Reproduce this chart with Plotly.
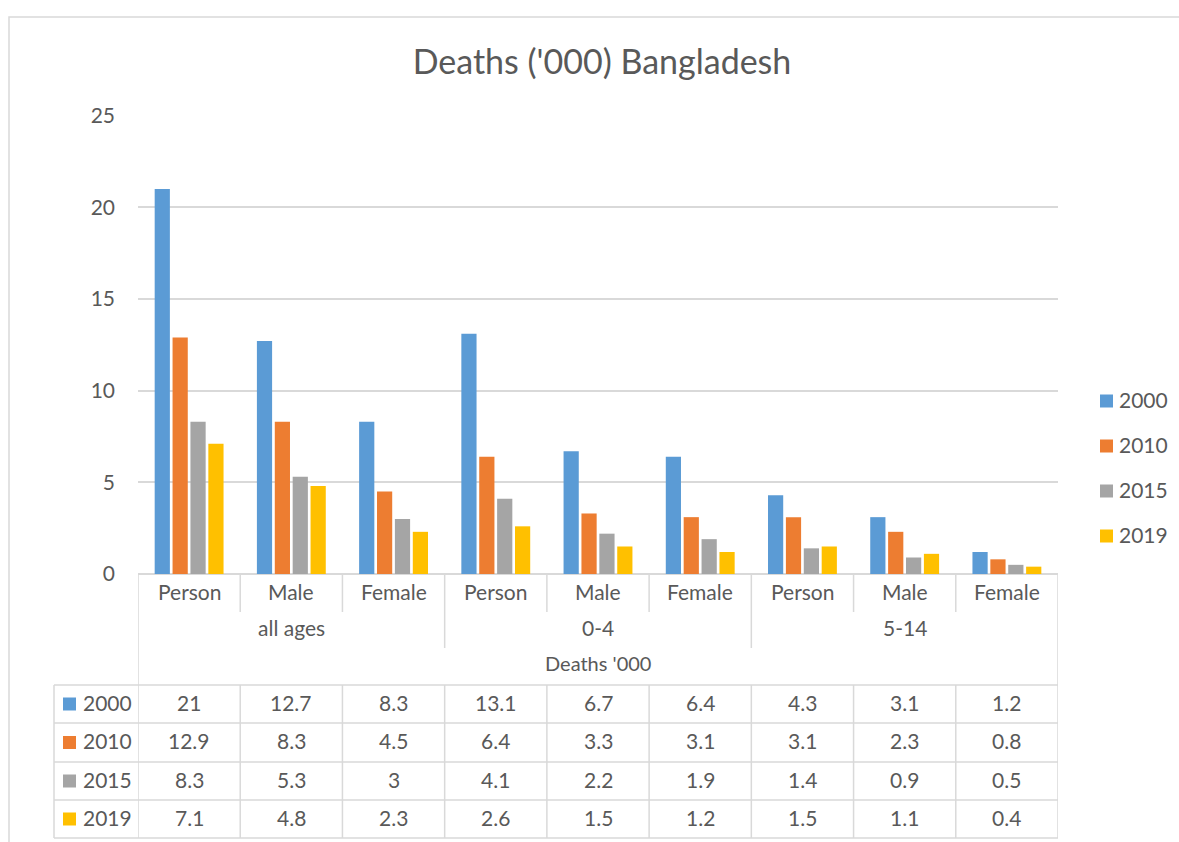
import plotly.graph_objects as go

# ---- data ----
sexes = ["Person", "Male", "Female", "Person", "Male", "Female", "Person", "Male", "Female"]
age_groups = ["all ages", "0-4", "5-14"]
axis_title = "Deaths '000"
years = ["2000", "2010", "2015", "2019"]
v2000 = [21, 12.7, 8.3, 13.1, 6.7, 6.4, 4.3, 3.1, 1.2]
v2010 = [12.9, 8.3, 4.5, 6.4, 3.3, 3.1, 3.1, 2.3, 0.8]
v2015 = [8.3, 5.3, 3, 4.1, 2.2, 1.9, 1.4, 0.9, 0.5]
v2019 = [7.1, 4.8, 2.3, 2.6, 1.5, 1.2, 1.5, 1.1, 0.4]
series = [v2000, v2010, v2015, v2019]
colors = ["#5B9BD5", "#ED7D31", "#A5A5A5", "#FFC000"]
title = "Deaths ('000) Bangladesh"

# ---- layout geometry (pixels) ----
W, H = 1179, 842
L, R, T, B = 138, 1058, 115, 574
PH = B - T
PW = R - L
FONT = "Lato, 'Open Sans', sans-serif"
TXT = "#595959"
GRID = "#D9D9D9"
FS = 21
DY = -2  # text baseline nudge


def py(p):
    return (B - p) / PH


def px(p):
    return (p - L) / PW


n = len(sexes)
x = list(range(n))

fig = go.Figure()
for yr, vals, c in zip(years, series, colors):
    fig.add_trace(go.Bar(x=x, y=vals, name=yr, marker=dict(color=c, line=dict(width=0)),
                         showlegend=False))

shapes = []
annotations = []
line = dict(color=GRID, width=1.5)

bounds = [i - 0.5 for i in range(n + 1)]
row_lines = [685, 723, 762, 800, 838]

# vertical separators under the axis
for i, bx in enumerate(bounds):
    if i == 0 or i == n:
        y0 = 838
    elif i % 3 == 0:
        y0 = 648
    else:
        y0 = 612
    shapes.append(dict(type="line", xref="x", yref="paper", x0=bx, x1=bx,
                       y0=py(574), y1=py(y0), line=line))
# vertical lines inside data table
for i, bx in enumerate(bounds):
    if 0 < i < n:
        shapes.append(dict(type="line", xref="x", yref="paper", x0=bx, x1=bx,
                           y0=py(row_lines[0]), y1=py(row_lines[-1]), line=line))
# legend column left line
shapes.append(dict(type="line", xref="paper", yref="paper", x0=px(54), x1=px(54),
                   y0=py(row_lines[0]), y1=py(row_lines[-1]), line=line))
# horizontal row lines
for ry in row_lines:
    shapes.append(dict(type="line", xref="paper", yref="paper", x0=px(54), x1=px(R),
                       y0=py(ry), y1=py(ry), line=line))

# category labels
for i, s in enumerate(sexes):
    annotations.append(dict(x=i, y=py(593 + DY), xref="x", yref="paper", text=s, showarrow=False,
                            font=dict(family=FONT, size=FS, color=TXT), yanchor="middle"))
for g, ag in enumerate(age_groups):
    annotations.append(dict(x=g * 3 + 1, y=py(629 + DY), xref="x", yref="paper", text=ag,
                            showarrow=False, font=dict(family=FONT, size=FS, color=TXT),
                            yanchor="middle"))
annotations.append(dict(x=(n - 1) / 2, y=py(665 + DY), xref="x", yref="paper", text=axis_title,
                        showarrow=False, font=dict(family=FONT, size=FS - 1, color=TXT),
                        yanchor="middle"))

# data table
for r, (yr, vals, c) in enumerate(zip(years, series, colors)):
    cy = (row_lines[r] + row_lines[r + 1]) / 2
    shapes.append(dict(type="rect", xref="paper", yref="paper", x0=px(63), x1=px(76),
                       y0=py(cy - 6.5), y1=py(cy + 6.5), fillcolor=c, line=dict(width=0)))
    annotations.append(dict(x=px(81), y=py(cy + DY), xref="paper", yref="paper", text=yr,
                            showarrow=False, xanchor="left", yanchor="middle",
                            font=dict(family=FONT, size=FS, color=TXT)))
    for i, v in enumerate(vals):
        annotations.append(dict(x=i, y=py(cy + DY), xref="x", yref="paper", text=f"{v:g}",
                                showarrow=False, yanchor="middle",
                                font=dict(family=FONT, size=FS, color=TXT)))

# legend (right side)
legend_y = [401, 446, 491, 536]
for yr, c, ly in zip(years, colors, legend_y):
    shapes.append(dict(type="rect", xref="paper", yref="paper", x0=px(1100), x1=px(1113),
                       y0=py(ly - 6.5), y1=py(ly + 6.5), fillcolor=c, line=dict(width=0)))
    annotations.append(dict(x=px(1117), y=py(ly + DY), xref="paper", yref="paper", text=yr,
                            showarrow=False, xanchor="left", yanchor="middle",
                            font=dict(family=FONT, size=FS, color=TXT)))

# outer chart border
shapes.append(dict(type="rect", xref="paper", yref="paper", x0=px(9), x1=px(1200),
                   y0=py(860), y1=py(17), line=dict(color="#D9D9D9", width=1.5),
                   fillcolor="rgba(0,0,0,0)", layer="below"))

fig.update_layout(
    width=W, height=H,
    margin=dict(l=L, r=W - R, t=T, b=H - B, pad=0, autoexpand=False),
    paper_bgcolor="white", plot_bgcolor="white",
    title=dict(text=title, x=602 / W, xref="container", xanchor="center",
               y=1 - 62 / H, yref="container", yanchor="middle",
               font=dict(family=FONT, size=34, color=TXT)),
    barmode="group", bargap=0.3, bargroupgap=0.15,
    xaxis=dict(range=[-0.5, n - 0.5], showticklabels=False, showgrid=False, zeroline=False,
               showline=False, ticks=""),
    yaxis=dict(range=[0, 25.03], tickvals=[0, 5, 10, 15, 20, 25], showgrid=True,
               gridcolor=GRID, gridwidth=1.5,
               zeroline=True, zerolinecolor=GRID, zerolinewidth=1.5, showline=False,
               ticks="", ticklabelstandoff=22,
               tickfont=dict(family=FONT, size=FS, color=TXT)),
    shapes=shapes, annotations=annotations,
    showlegend=False,
)

fig.write_html("out.html", post_script="document.body.style.margin='0';",
               config={"displayModeBar": False})
